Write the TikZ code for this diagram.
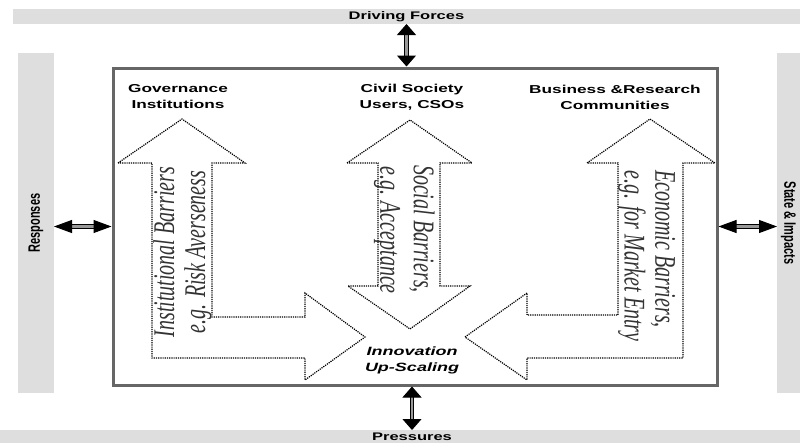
\documentclass[tikz,border=0pt]{standalone}
\usepackage{fontspec}
\setmainfont{Liberation Serif}
\setsansfont{Liberation Sans}
\usetikzlibrary{arrows.meta,positioning,calc}

\begin{document}
\begin{tikzpicture}[
  x=1pt, y=-1pt,
  hstretch/.style={xscale=1.5},
  bar/.style={fill=black!13, draw=none, inner sep=0pt, outer sep=0pt},
  barlabel/.style={hstretch, font=\sffamily\bfseries\fontsize{11}{13}\selectfont},
  actor/.style={hstretch, align=center, font=\sffamily\bfseries\fontsize{11.5}{16}\selectfont},
  barrier/.style={hstretch, inner sep=0pt, text=black!80, font=\itshape\fontsize{20}{22}\selectfont},
  hollow/.style={draw=black, line width=1.2pt, densely dotted, line join=miter},
  link/.style={draw=black, line width=1pt, double=black!40, double distance=2.8pt},
  vlink/.style={link, {Triangle[length=11pt,width=19pt]}-{Triangle[length=11pt,width=19pt]}},
  hlink/.style={link, {Triangle[length=18pt,width=13pt]}-{Triangle[length=18pt,width=13pt]}}
]
  \useasboundingbox (0,0) rectangle (800,442);

  % surrounding DPSIR bars
  \node[bar, minimum width=787pt, minimum height=15pt] (topbar) at (406.5,16.5) {};
  \node[barlabel] (driving) at (topbar) {Driving Forces};
  \node[bar, minimum width=800pt, minimum height=14pt] (pbar) at (400,437) {};
  \node[barlabel] (press) at (412,437) {Pressures};
  \node[bar, minimum width=36pt, minimum height=340pt] (leftbar) at (36,223) {};
  \node[barlabel, rotate=90] (resp) at (leftbar) {Responses};
  \node[bar, minimum width=23pt, minimum height=340pt] (rightbar) at (788.5,223) {};
  \node[barlabel, rotate=-90] (state) at (rightbar) {State \& Impacts};

  % innovation system
  \node[draw=black!60, line width=3pt, minimum width=604pt, minimum height=317pt, inner sep=0pt] (core) at (415,226.5) {};

  \node[actor] (gov) at (178,97) {Governance\\Institutions};
  \node[actor] (civil) at (412,97) {Civil Society\\Users, CSOs};
  \node[actor] (business) at (615,97) {Business \&Research\\Communities};

  % barrier arrows
  \draw[hollow] (118,163) -- (182,119) -- (245,163) -- (212,163) -- (212,317) -- (305,317)
    -- (305,293) -- (365,337) -- (305,380) -- (305,358) -- (152,358) -- (152,163) -- cycle;
  \draw[hollow] (347,163) -- (410,120) -- (472,163) -- (440,163) -- (440,286) -- (470,286)
    -- (410,329) -- (348,286) -- (378,286) -- (378,163) -- cycle;
  \draw[hollow] (587,163) -- (650,119) -- (715,163) -- (683,163) -- (683,358) -- (527,358)
    -- (527,380) -- (465,337) -- (527,293) -- (527,315) -- (618,315) -- (618,163) -- cycle;

  \node[barrier, rotate=90] (inst) at (164,252) {Institutional Barriers};
  \node[barrier, rotate=90] (risk) at (198,252) {e.g. Risk Averseness};
  \node[barrier, rotate=-90] (social) at (422,229) {Social Barriers,};
  \node[barrier, rotate=-90] (accept) at (387,230) {e.g. Acceptance};
  \node[barrier, rotate=-90] (econ) at (663,249) {Economic Barriers,};
  \node[barrier, rotate=-90] (market) at (632,256) {e.g. for Market Entry};

  \node[actor, font=\sffamily\bfseries\itshape\fontsize{12}{16}\selectfont] (upscale) at (412,360) {Innovation\\Up-Scaling};

  % links to the bars
  \draw[vlink] (topbar.south) -- (topbar.south |- core.north);
  \draw[vlink] (press |- core.south) -- (press |- pbar.north);
  \draw[hlink] (leftbar.east |- core.west) -- (core.west);
  \draw[hlink] (core.east) -- (core.east -| rightbar.west);
\end{tikzpicture}
\end{document}
